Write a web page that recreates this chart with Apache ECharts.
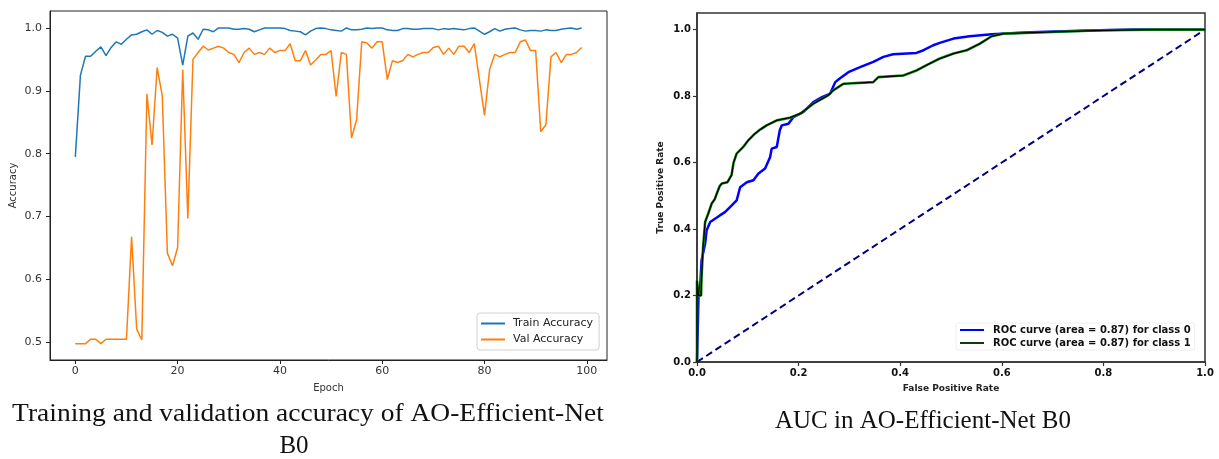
<!DOCTYPE html>
<html><head><meta charset="utf-8">
<script src="https://cdn.jsdelivr.net/npm/echarts@6/dist/echarts.min.js"></script>
<style>html,body{margin:0;padding:0;background:#fff}#c{width:1219px;height:459px}</style>
</head><body><div id="c"></div>
<script>
// ---------- Left chart: accuracy per epoch (epoch = array index 0..99) ----------
const trainAcc = [
  0.795, 0.925, 0.955, 0.955, 0.963, 0.970, 0.956, 0.969, 0.978, 0.974,
  0.982, 0.989, 0.990, 0.994, 0.997, 0.990, 0.996, 0.993, 0.987, 0.990,
  0.984, 0.941, 0.987, 0.992, 0.982, 0.998, 0.997, 0.994, 1.000, 1.000,
  1.000, 0.998, 0.998, 0.999, 0.998, 0.994, 0.997, 1.000, 1.000, 1.000,
  1.000, 0.999, 0.996, 0.995, 0.994, 0.989, 0.995, 0.999, 1.000, 0.999,
  0.997, 0.996, 0.995, 1.000, 0.997, 0.997, 0.998, 1.000, 0.999, 1.000,
  1.000, 0.997, 0.996, 0.996, 0.999, 0.999, 0.998, 0.998, 0.999, 0.999,
  0.999, 0.997, 0.999, 0.998, 0.999, 0.998, 0.997, 0.999, 1.000, 0.995,
  0.990, 0.994, 0.999, 0.995, 0.998, 0.999, 1.000, 0.997, 0.995, 0.996,
  0.996, 0.995, 0.997, 0.996, 0.996, 0.998, 0.999, 1.000, 0.998, 1.000
];
const valAcc = [
  0.498, 0.498, 0.498, 0.505, 0.505, 0.498, 0.505, 0.505, 0.505, 0.505,
  0.505, 0.668, 0.521, 0.504, 0.895, 0.814, 0.937, 0.892, 0.642, 0.622,
  0.651, 0.934, 0.697, 0.950, 0.961, 0.971, 0.965, 0.968, 0.971, 0.968,
  0.961, 0.958, 0.945, 0.961, 0.968, 0.958, 0.961, 0.958, 0.968, 0.961,
  0.964, 0.964, 0.975, 0.948, 0.948, 0.964, 0.941, 0.949, 0.958, 0.958,
  0.964, 0.891, 0.961, 0.958, 0.825, 0.854, 0.978, 0.976, 0.968, 0.978,
  0.978, 0.918, 0.948, 0.945, 0.948, 0.958, 0.954, 0.958, 0.961, 0.961,
  0.969, 0.971, 0.958, 0.968, 0.958, 0.971, 0.971, 0.961, 0.975, 0.918,
  0.861, 0.934, 0.958, 0.954, 0.958, 0.961, 0.961, 0.978, 0.981, 0.964,
  0.964, 0.835, 0.846, 0.954, 0.961, 0.945, 0.958, 0.958, 0.961, 0.969
];
const epochTicks = [0, 20, 40, 60, 80, 100];
const accTicks = [0.5, 0.6, 0.7, 0.8, 0.9, 1.0];

// ---------- Right chart: ROC curves ----------
const roc0Fpr = [0, 0.003, 0.006, 0.009, 0.016, 0.019, 0.026, 0.045, 0.055, 0.065, 0.078, 0.085, 0.098, 0.111, 0.121, 0.134, 0.144, 0.147, 0.157, 0.163, 0.167, 0.180, 0.190, 0.209, 0.229, 0.246, 0.262, 0.272, 0.281, 0.298, 0.321, 0.347, 0.367, 0.386, 0.432, 0.446, 0.465, 0.478, 0.505, 0.537, 0.580, 0.656, 0.770, 0.860, 1.0];
const roc0Tpr = [0, 0.200, 0.220, 0.306, 0.356, 0.396, 0.421, 0.441, 0.451, 0.466, 0.486, 0.526, 0.541, 0.547, 0.567, 0.582, 0.617, 0.642, 0.647, 0.697, 0.712, 0.717, 0.737, 0.752, 0.782, 0.797, 0.807, 0.842, 0.853, 0.872, 0.887, 0.903, 0.918, 0.926, 0.930, 0.938, 0.953, 0.960, 0.973, 0.980, 0.986, 0.992, 0.997, 1.000, 1.0];
const roc1Fpr = [0, 0, 0.003, 0.008, 0.009, 0.012, 0.016, 0.022, 0.029, 0.035, 0.039, 0.045, 0.049, 0.060, 0.068, 0.072, 0.078, 0.091, 0.101, 0.114, 0.125, 0.137, 0.157, 0.183, 0.203, 0.229, 0.258, 0.268, 0.288, 0.347, 0.357, 0.406, 0.432, 0.452, 0.478, 0.505, 0.531, 0.557, 0.580, 0.603, 0.701, 0.800, 0.900, 1.0];
const roc1Tpr = [0, 0.245, 0.200, 0.200, 0.256, 0.346, 0.421, 0.446, 0.477, 0.490, 0.507, 0.530, 0.537, 0.541, 0.562, 0.600, 0.627, 0.647, 0.667, 0.687, 0.700, 0.712, 0.727, 0.735, 0.747, 0.777, 0.802, 0.817, 0.837, 0.842, 0.857, 0.862, 0.877, 0.893, 0.913, 0.928, 0.938, 0.958, 0.980, 0.988, 0.993, 0.998, 1.000, 1.0];
const chanceFpr = [0, 1];
const chanceTpr = [0, 1];
const rateTicks = [0, 0.2, 0.4, 0.6, 0.8, 1.0];

const leftCaption = ['Training and validation accuracy of AO-Efficient-Net', 'B0'];
const rightCaption = 'AUC in AO-Efficient-Net B0';
const roc0Name = 'ROC curve (area = 0.87) for class 0';
const roc1Name = 'ROC curve (area = 0.87) for class 1';

const zip = (a, b) => a.map((v, i) => [v, b[i]]);
const byEpoch = arr => arr.map((v, i) => [i, v]);

const chart = echarts.init(document.getElementById('c'), null, {renderer: 'canvas'});
const sans = 'DejaVu Sans';

chart.setOption({
  animation: false,
  backgroundColor: '#fff',
  grid: [
    {left: 50, top: 11, width: 557, height: 349, show: true, borderColor: '#222', borderWidth: 1, backgroundColor: 'transparent'},
    {left: 697, top: 13, width: 508, height: 349, show: true, borderColor: '#333', borderWidth: 1.5, backgroundColor: 'transparent'}
  ],
  xAxis: [
    {gridIndex: 0, type: 'value', min: -4.95, max: 103.95,
     name: 'Epoch', nameLocation: 'middle', nameGap: 23,
     nameTextStyle: {fontFamily: sans, fontSize: 10, color: '#333'},
     axisLine: {show: true, onZero: false, lineStyle: {color: '#222', width: 1}},
     axisTick: {show: true, length: 4, lineStyle: {color: '#222'}, customValues: epochTicks},
     axisLabel: {fontFamily: sans, fontSize: 11, color: '#333', margin: 6, customValues: epochTicks},
     splitLine: {show: false}},
    {gridIndex: 1, type: 'value', min: 0, max: 1,
     name: 'False Positive Rate', nameLocation: 'middle', nameGap: 22,
     nameTextStyle: {fontFamily: sans, fontSize: 9, fontWeight: 'bold', color: '#222'},
     axisLine: {show: true, onZero: false, lineStyle: {color: '#333', width: 1.5}},
     axisTick: {show: true, length: 4, lineStyle: {color: '#333', width: 1.2}, customValues: rateTicks},
     axisLabel: {fontFamily: sans, fontSize: 10, fontWeight: 'bold', color: '#111', margin: 6, customValues: rateTicks,
                 formatter: v => v.toFixed(1)},
     splitLine: {show: false}}
  ],
  yAxis: [
    {gridIndex: 0, type: 'value', min: 0.472, max: 1.027,
     name: 'Accuracy', nameLocation: 'middle', nameGap: 32,
     nameTextStyle: {fontFamily: sans, fontSize: 10, color: '#333'},
     axisLine: {show: true, onZero: false, lineStyle: {color: '#222', width: 1}},
     axisTick: {show: true, length: 4, lineStyle: {color: '#222'}, customValues: accTicks},
     axisLabel: {fontFamily: sans, fontSize: 11, color: '#333', margin: 8, customValues: accTicks,
                 formatter: v => v.toFixed(1)},
     splitLine: {show: false}},
    {gridIndex: 1, type: 'value', min: 0, max: 1.05,
     name: 'True Positive Rate', nameLocation: 'middle', nameGap: 32,
     nameTextStyle: {fontFamily: sans, fontSize: 9, fontWeight: 'bold', color: '#222'},
     axisLine: {show: true, onZero: false, lineStyle: {color: '#333', width: 1.5}},
     axisTick: {show: true, length: 4, lineStyle: {color: '#333', width: 1.2}, customValues: rateTicks},
     axisLabel: {fontFamily: sans, fontSize: 10, fontWeight: 'bold', color: '#111', margin: 6, customValues: rateTicks,
                 formatter: v => v.toFixed(1)},
     splitLine: {show: false}}
  ],
  legend: [
    {data: ['Train Accuracy', 'Val Accuracy'], orient: 'vertical', left: 477, top: 313,
     icon: 'rect', itemWidth: 24, itemHeight: 2, itemGap: 5,
     padding: [5, 6, 5, 4], backgroundColor: '#fff', borderColor: '#d0d0d0', borderWidth: 1, borderRadius: 3,
     textStyle: {fontFamily: sans, fontSize: 11, color: '#222', padding: [0, 0, 0, 3]}},
    {data: [{name: roc0Name}, {name: roc1Name, itemStyle: {color: '#0f3a0f'}}],
     orient: 'vertical', left: 956, top: 323,
     icon: 'rect', itemWidth: 24, itemHeight: 2, itemGap: 3,
     padding: [2, 4, 2, 4], backgroundColor: '#fff', borderColor: '#eee', borderWidth: 1, borderRadius: 2,
     textStyle: {fontFamily: sans, fontSize: 10, fontWeight: 'bold', color: '#111', padding: [0, 0, 0, 4]}}
  ],
  graphic: [
    {type: 'text', x: 308, y: 402, scaleX: 1.1, style: {text: leftCaption[0], font: '25px "Liberation Serif"', fill: '#111', textAlign: 'center', textVerticalAlign: 'top'}},
    {type: 'text', x: 294, y: 434, style: {text: leftCaption[1], font: '25px "Liberation Serif"', fill: '#111', textAlign: 'center', textVerticalAlign: 'top'}},
    {type: 'text', x: 923, y: 409, style: {text: rightCaption, font: '25px "Liberation Serif"', fill: '#111', textAlign: 'center', textVerticalAlign: 'top'}}
  ],
  series: [
    {name: 'Train Accuracy', type: 'line', xAxisIndex: 0, yAxisIndex: 0, data: byEpoch(trainAcc),
     showSymbol: false, symbol: 'none', color: '#1f77b4', lineStyle: {width: 1.5, color: '#1f77b4'}},
    {name: 'Val Accuracy', type: 'line', xAxisIndex: 0, yAxisIndex: 0, data: byEpoch(valAcc),
     showSymbol: false, symbol: 'none', color: '#ff7f0e', lineStyle: {width: 1.5, color: '#ff7f0e'}},
    {name: 'chance', type: 'line', xAxisIndex: 1, yAxisIndex: 1, data: zip(chanceFpr, chanceTpr),
     showSymbol: false, symbol: 'none', lineStyle: {width: 2, color: '#000080', type: [7, 4]}},
    {name: roc0Name, type: 'line', xAxisIndex: 1, yAxisIndex: 1, data: zip(roc0Fpr, roc0Tpr),
     showSymbol: false, symbol: 'none', color: '#0000ff', lineStyle: {width: 2.5, color: '#0000ff'}},
    {name: roc1Name + ' ', type: 'line', xAxisIndex: 1, yAxisIndex: 1, data: zip(roc1Fpr, roc1Tpr),
     showSymbol: false, symbol: 'none', color: '#008000', lineStyle: {width: 2.6, color: '#1a8a1a'}},
    {name: roc1Name, type: 'line', xAxisIndex: 1, yAxisIndex: 1, data: zip(roc1Fpr, roc1Tpr),
     showSymbol: false, symbol: 'none', color: '#0f3a0f', lineStyle: {width: 1.3, color: '#000'}}
  ]
});
</script></body></html>
